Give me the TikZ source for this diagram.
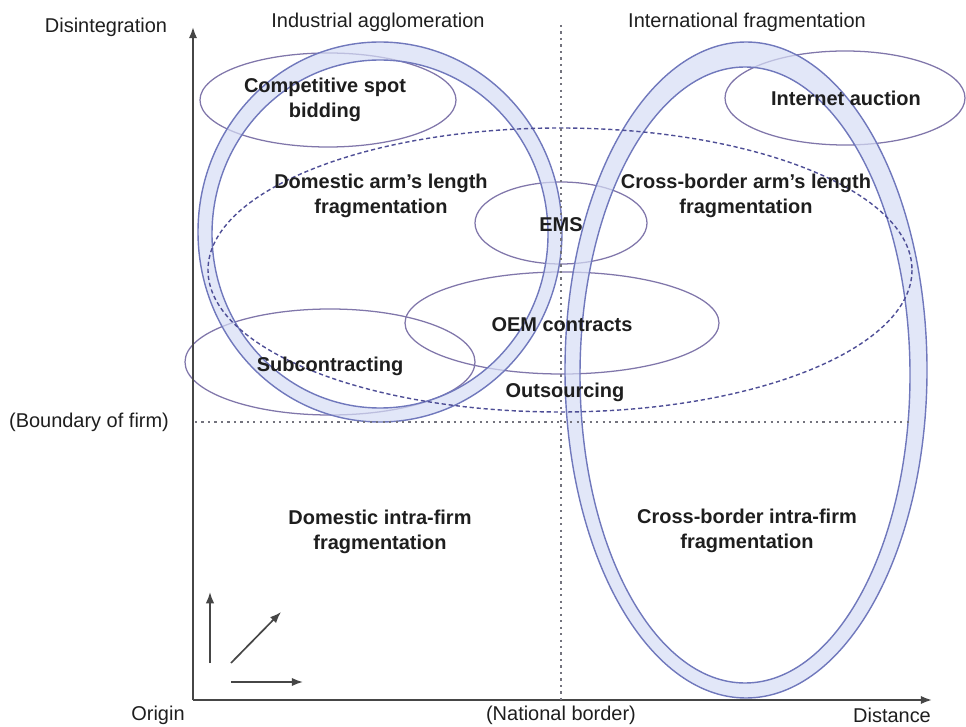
\documentclass[tikz,border=0pt]{standalone}
\usepackage{fontspec}
\setmainfont{Liberation Sans}
\usetikzlibrary{arrows.meta}

\definecolor{ringline}{RGB}{112,120,188}
\definecolor{ringfill}{RGB}{214,221,245}
\definecolor{thincol}{RGB}{128,118,170}
\definecolor{dashcol}{RGB}{78,78,150}
\definecolor{dotcol}{RGB}{115,115,125}
\definecolor{axiscol}{RGB}{70,70,70}
\definecolor{txtcol}{RGB}{30,30,30}

\begin{document}
\begin{tikzpicture}[x=0.025cm,y=-0.025cm,
    lbl/.style={font=\fontsize{14.2}{17.8}\selectfont\bfseries, align=center, text=txtcol, inner sep=0pt},
    axlbl/.style={font=\fontsize{14.2}{17.8}\selectfont, text=txtcol, inner sep=0pt},
    thinell/.style={draw=thincol, line width=0.9pt},
    ringedge/.style={draw=ringline, line width=1pt},
    axisline/.style={draw=axiscol, line width=1.4pt, -{Latex[length=8pt,width=6pt]}},
    smallarrow/.style={draw=axiscol, line width=1.2pt, -{Latex[length=8pt,width=6pt]}},
    dotline/.style={draw=dotcol, line width=1.3pt, dash pattern=on 1.6pt off 3pt}]

% Fix the picture size
\useasboundingbox (0,0) rectangle (966,727);

% Define radii of the two rings
\def\rxa{182} \def\rya{190}
\def\rxb{181} \def\ryb{328}

% ===== Thin ellipses =====
\draw[thinell] (328,100) ellipse (128 and 47);   % competitive spot bidding
\draw[thinell] (845,98) ellipse (120 and 47);    % internet auction
\draw[thinell] (561,223) ellipse (86 and 41);    % EMS
\draw[thinell] (562,323) ellipse (157 and 51);   % OEM contracts
\draw[thinell] (330,362) ellipse (145 and 53);   % subcontracting

% ===== Left ring (industrial agglomeration) =====
\fill[ringfill, fill opacity=0.7, even odd rule]
    (380,232) ellipse ({\rxa} and {\rya}) (380,234) ellipse ({\rxa-14} and {\rya-16});
\draw[ringedge] (380,232) ellipse ({\rxa} and {\rya});
\draw[ringedge] (380,234) ellipse ({\rxa-14} and {\rya-16});

% ===== Right ring (international fragmentation) =====
\fill[ringfill, fill opacity=0.7, even odd rule]
    (746,370) ellipse ({\rxb} and {\ryb}) (745,375) ellipse ({\rxb-16} and {\ryb-20});
\draw[ringedge] (746,370) ellipse ({\rxb} and {\ryb});
\draw[ringedge] (745,375) ellipse ({\rxb-16} and {\ryb-20});

% ===== Outsourcing (dashed) =====
\draw[dashcol, line width=1pt, dash pattern=on 3pt off 2pt] (560,270) ellipse (352 and 142);

% ===== Axes =====
\coordinate (origin) at (193,700);
\coordinate (ytip) at (193,27);
\coordinate (xtip) at (932,700);
\draw[axisline] (origin) -- (ytip);
\draw[axisline] (origin) -- (xtip);

% Dotted border lines
\coordinate (border top) at (561,25);
\coordinate (border bot) at (561,700);
\coordinate (firm left) at (195,422);
\coordinate (firm right) at (912,422);
\draw[dotline] (border top) -- (border bot);
\draw[dotline] (firm left) -- (firm right);

% Small arrows in the corner
\coordinate (up a) at (210,663);   \coordinate (up b) at (210,592);
\coordinate (diag a) at (231,663); \coordinate (diag b) at (281,612);
\coordinate (right a) at (231,682); \coordinate (right b) at (303,682);
\draw[smallarrow] (up a) -- (up b);
\draw[smallarrow] (diag a) -- (diag b);
\draw[smallarrow] (right a) -- (right b);

% ===== Axis labels =====
\node[axlbl] (disint) at (106,27) {Disintegration};
\node[axlbl] (indagg) at (378,22) {Industrial agglomeration};
\node[axlbl] (intfrag) at (747,22) {International fragmentation};
\node[axlbl] (boundary) at (89,422) {(Boundary of firm)};
\node[axlbl] (orig) at (158,715) {Origin};
\node[axlbl] (natborder) at (561,715) {(National border)};
\node[axlbl] (dist) at (892,715) {Distance};

% ===== Region labels =====
\node[lbl] (spot) at (325,100) {Competitive spot\\bidding};
\node[lbl] (auction) at (846,98) {Internet auction};
\node[lbl] (domarm) at (381,196) {Domestic arm's length\\fragmentation};
\node[lbl] (crossarm) at (746,196) {Cross-border arm's length\\fragmentation};
\node[lbl] (ems) at (561,225) {EMS};
\node[lbl] (oem) at (562,325) {OEM contracts};
\node[lbl] (subcon) at (330,366) {Subcontracting};
\node[lbl] (outsrc) at (565,392) {Outsourcing};
\node[lbl] (domintra) at (380,532) {Domestic intra-firm\\fragmentation};
\node[lbl] (crossintra) at (747,531) {Cross-border intra-firm\\fragmentation};

\end{tikzpicture}
\end{document}
